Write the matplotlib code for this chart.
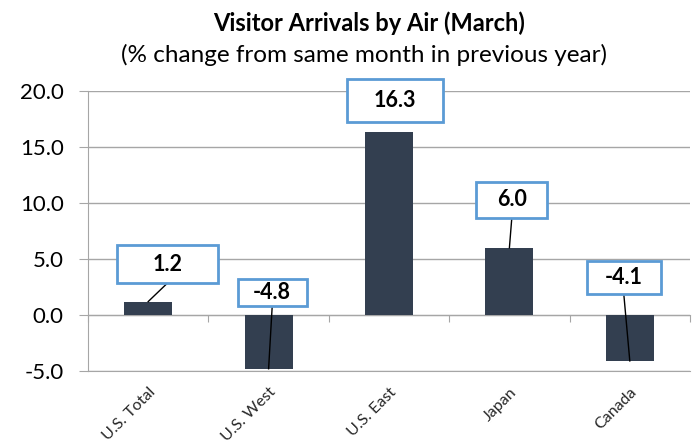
import matplotlib
matplotlib.use("Agg")
import matplotlib.pyplot as plt
from matplotlib.patches import Rectangle

plt.rcParams['font.family'] = ['Lato', 'DejaVu Sans']

# data
markets = ['U.S. Total', 'U.S. West', 'U.S. East', 'Japan', 'Canada']
pct_change = [1.2, -4.8, 16.3, 6.0, -4.1]
y_ticks = [-5.0, 0.0, 5.0, 10.0, 15.0, 20.0]

# callout layout (data units): centre, size, whether a leader line is drawn
box_cx = [0.16, 1.03, 2.05, 3.02, 3.95]
box_cy = [4.55, 2.0, 19.15, 10.27, 3.35]
box_w = [0.84, 0.57, 0.79, 0.59, 0.61]
box_h = [3.4, 2.4, 3.8, 3.2, 2.95]
leader = [True, True, False, True, True]

BAR = '#333F50'
EDGE = '#5B9BD5'
GRID = '#A6A6A6'

fig = plt.figure(figsize=(7, 4.44), dpi=100)
ax = fig.add_axes([88 / 700, 1 - 371 / 444, 602 / 700, 280 / 444])

x = list(range(len(markets)))
ax.bar(x, pct_change, width=0.4, color=BAR, zorder=3)

ax.set_xlim(-0.5, len(markets) - 0.5)
ax.set_ylim(-5, 20)
ax.set_yticks(y_ticks)
ax.set_yticklabels([f'{v:.1f}' for v in y_ticks], fontsize=16)
ax.yaxis.grid(True, color=GRID, lw=1, zorder=0)
ax.tick_params(axis='y', length=6.5, color=GRID, pad=11)

for s in ['top', 'right']:
    ax.spines[s].set_visible(False)
ax.spines['left'].set_color(GRID)
ax.spines['bottom'].set_color(GRID)
ax.spines['bottom'].set_position(('data', 0))

# boundary ticks on the zero line
ax.set_xticks([i - 0.5 for i in range(len(markets) + 1)])
ax.set_xticklabels([])
ax.tick_params(axis='x', length=5, color=GRID, direction='out')

# category labels at the bottom
sec = ax.secondary_xaxis(0)
sec.set_xticks(x)
sec.set_xticklabels(markets, rotation=45, ha='right', va='top',
                    rotation_mode='anchor', fontsize=11.5, color='#262626')
sec.tick_params(length=0, pad=10)
sec.spines['bottom'].set_color(GRID)

# callouts
for i, v in enumerate(pct_change):
    cx, cy, w, h = box_cx[i], box_cy[i], box_w[i], box_h[i]
    ax.add_patch(Rectangle((cx - w / 2, cy - h / 2), w, h, facecolor='white',
                           edgecolor=EDGE, lw=2, zorder=5, clip_on=False))
    ax.text(cx, cy, f'{v:.1f}', ha='center', va='center', fontsize=15.5,
            fontweight='bold', zorder=6, clip_on=False)
    if leader[i]:
        ax.plot([cx, i], [cy - h / 2, v], color='black', lw=1, zorder=4,
                clip_on=False)

fig.text(0.527, 1 - 31 / 444, 'Visitor Arrivals by Air (March)', ha='center',
         va='baseline', fontsize=17, fontweight='bold')
fig.text(0.52, 1 - 62 / 444, '(% change from same month in previous year)',
         ha='center', va='baseline', fontsize=17.5)

fig.savefig('out.png', dpi=100)
